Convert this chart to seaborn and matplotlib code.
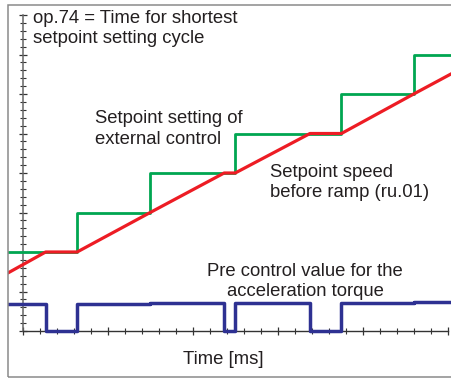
import matplotlib
matplotlib.use("Agg")
import numpy as np
import pandas as pd
import matplotlib.pyplot as plt
from matplotlib.patches import Rectangle
from matplotlib.ticker import FixedLocator
import seaborn as sns

sns.set_style("white")
plt.rcParams["font.family"] = ["Liberation Sans", "DejaVu Sans"]

W, H, DPI = 452, 378, 100

# time in major divisions, signal level in setpoint steps
setpoint_t = [-0.173, 0.64, 1.50, 2.50, 3.75, 4.60, 5.05]
setpoint_v = [2, 3, 4, 5, 6, 7, 7]

speed_t = [-0.173, 0.27, 0.64, 1.50, 2.37, 2.50, 3.38, 3.75, 4.60, 5.05]
speed_v = [1.47, 2, 2, 3, 4, 4, 5, 5, 6, 6.52]

torque_t = [-0.173, 0.27, 0.64, 1.50, 2.37, 2.50, 3.38, 3.75, 4.60, 5.05]
torque_v = [0.68, 0, 0.68, 0.71, 0, 0.71, 0, 0.71, 0.73, 0.73]

GREEN, RED, BLUE = "#00a651", "#ed1c24", "#2e3192"
INK = "#231f20"

fig = plt.figure(figsize=(W / DPI, H / DPI), dpi=DPI)
ax = fig.add_axes([8 / W, 1 - 377 / H, (452 - 8) / W, (377 - 5) / H])
ax.set_facecolor("white")

df_set = pd.DataFrame({"t": setpoint_t, "v": setpoint_v})
df_spd = pd.DataFrame({"t": speed_t, "v": speed_v})
df_trq = pd.DataFrame({"t": torque_t, "v": torque_v})

sns.lineplot(data=df_set, x="t", y="v", ax=ax, color=GREEN, lw=2.0,
             drawstyle="steps-post", estimator=None, sort=False, zorder=3)
sns.lineplot(data=df_spd, x="t", y="v", ax=ax, color=RED, lw=2.3,
             estimator=None, sort=False, zorder=4)
sns.lineplot(data=df_trq, x="t", y="v", ax=ax, color=BLUE, lw=2.5,
             drawstyle="steps-post", estimator=None, sort=False, zorder=4)

ax.set_xlim((8 - 22.7) / 85, (452 - 22.7) / 85)
ax.set_ylim((331 - 377) / 39.5, (331 - 5) / 39.5)
ax.set_xlabel("")
ax.set_ylabel("")

for side in ("top", "right"):
    ax.spines[side].set_visible(False)
ax.spines["left"].set_position(("data", 0))
ax.spines["bottom"].set_position(("data", 0))
ax.spines["left"].set_bounds(0, 8)
ax.spines["bottom"].set_bounds(0, 5)
ax.spines["left"].set_color("#666666")
ax.spines["bottom"].set_color("#333333")
ax.spines["left"].set_linewidth(1.1)
ax.spines["bottom"].set_linewidth(1.0)

ax.xaxis.set_major_locator(FixedLocator(np.arange(0, 5.01, 1)))
ax.xaxis.set_minor_locator(FixedLocator(np.arange(0, 5.01, 0.2)))
ax.yaxis.set_major_locator(FixedLocator(np.arange(0, 8.01, 1)))
ax.yaxis.set_minor_locator(FixedLocator(np.arange(0, 8.01, 0.2)))
ax.tick_params(which="both", bottom=True, left=True, top=False, right=False,
               labelbottom=False, labelleft=False)
ax.tick_params(which="major", direction="inout", length=6, width=0.9,
               color="#333333")
ax.tick_params(which="minor", direction="inout", length=4, width=0.8,
               color="#333333")

fig.patches.append(Rectangle((8 / W, 1 - 377 / H), (470 - 8) / W, (377 - 5) / H,
                             transform=fig.transFigure, fill=False,
                             edgecolor="#8a8a8a", lw=1.1, zorder=0))

FS = 13.3


def label(x, y, s, ha="left"):
    fig.text(x / W, 1 - y / H, s, ha=ha, va="baseline", fontsize=FS, color=INK)


label(33, 23, "op.74 = Time for shortest")
label(33, 43, "setpoint setting cycle")
label(95, 123, "Setpoint setting of")
label(95, 144, "external control")
label(270, 177, "Setpoint speed")
label(270, 197, "before ramp (ru.01)")
label(305, 276, "Pre control value for the", ha="center")
label(305, 296, "acceleration torque", ha="center")
label(223, 364, "Time [ms]", ha="center")

fig.savefig("out.png", dpi=DPI)
